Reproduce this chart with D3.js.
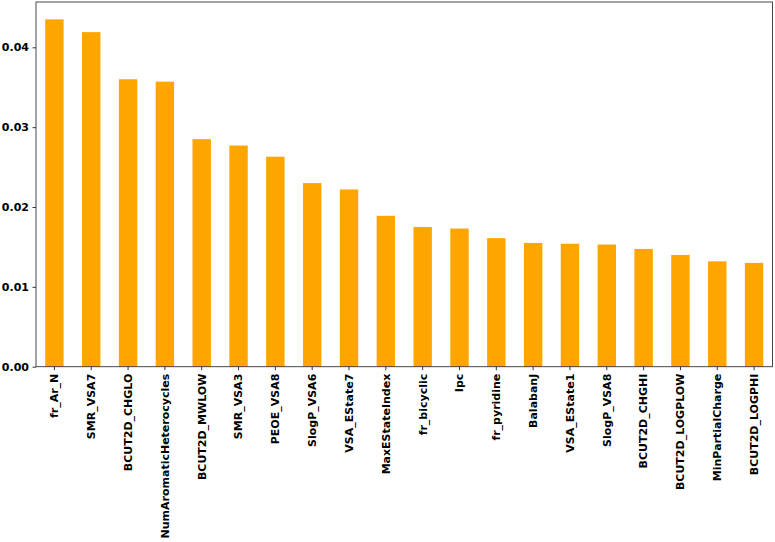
<!DOCTYPE html>
<html><head><meta charset="utf-8">
<script src="https://cdn.jsdelivr.net/npm/d3@7"></script>
<style>body{margin:0;background:#fff;} svg{display:block;}</style>
</head><body>
<svg id="c" width="775" height="542"></svg>
<script>
const categories = ["fr_Ar_N","SMR_VSA7","BCUT2D_CHGLO","NumAromaticHeterocycles","BCUT2D_MWLOW","SMR_VSA3","PEOE_VSA8","SlogP_VSA6","VSA_EState7","MaxEStateIndex","fr_bicyclic","Ipc","fr_pyridine","BalabanJ","VSA_EState1","SlogP_VSA8","BCUT2D_CHGHI","BCUT2D_LOGPLOW","MinPartialCharge","BCUT2D_LOGPHI"];
const values = [0.0435,0.0419,0.0360,0.0357,0.0285,0.0277,0.0263,0.0230,0.0222,0.0189,0.0175,0.0173,0.0161,0.0155,0.0154,0.0153,0.01475,0.0140,0.0132,0.0130];
const yTicks = [0.00,0.01,0.02,0.03,0.04];

const m = {left:36, right:2.5, top:2, bottom:175.3};
const W = 775, H = 542;
const svg = d3.select("#c");
const x = d3.scaleBand().domain(categories).range([m.left, W-m.right]).paddingInner(0.5).paddingOuter(0.25);
const y = d3.scaleLinear().domain([0, d3.max(values)*1.05]).range([H-m.bottom, m.top]);

svg.append("g").selectAll("rect").data(values).join("rect")
  .attr("x",(d,i)=>x(categories[i])).attr("width",x.bandwidth())
  .attr("y",d=>y(d)).attr("height",d=>y(0)-y(d)).attr("fill","#FFA500");

const font = "'DejaVu Sans', sans-serif";
const ya = svg.append("g").attr("transform",`translate(${m.left},0)`)
  .call(d3.axisLeft(y).tickValues(yTicks).tickFormat(d3.format(".2f")).tickSize(3.5).tickPadding(3.5));
ya.select(".domain").remove();
ya.selectAll("text").attr("font-family",font).attr("font-weight","bold").attr("font-size","11px").attr("fill","#000");
ya.selectAll("line").attr("stroke","#000").attr("stroke-width",0.8);

const xa = svg.append("g").attr("transform",`translate(0,${H-m.bottom})`)
  .call(d3.axisBottom(x).tickSize(3.5).tickPadding(3.5));
xa.select(".domain").remove();
xa.selectAll("line").attr("stroke","#000").attr("stroke-width",0.8);
xa.selectAll("text").attr("font-family",font).attr("font-weight","bold").attr("font-size","11px").attr("fill","#000")
  .attr("transform","rotate(-90)").attr("text-anchor","end").attr("dy","0.35em").attr("x",-7).attr("y",0);

svg.append("rect").attr("x",m.left).attr("y",m.top).attr("width",W-m.right-m.left).attr("height",H-m.bottom-m.top)
  .attr("fill","none").attr("stroke","#333").attr("stroke-width",0.9);
</script>
</body></html>
